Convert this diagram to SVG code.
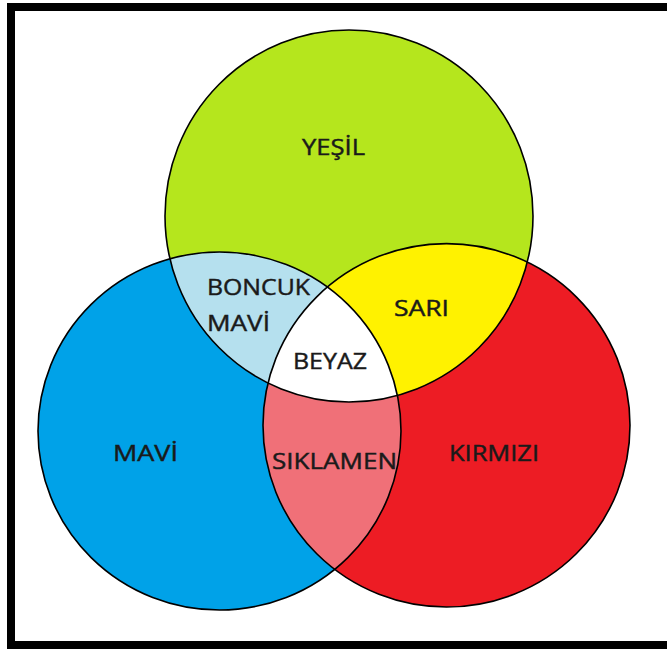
<svg xmlns="http://www.w3.org/2000/svg" width="667" height="650" viewBox="0 0 667 650">
<style>
.outline{fill:none;stroke:#000;stroke-width:1.6}
.lbl{font-family:"Open Sans","Liberation Sans",sans-serif;font-size:22px;fill:#1a1a1a;stroke:#1a1a1a;stroke-width:0.45}
</style>
<defs>
<ellipse id="eG" cx="349" cy="216" rx="184" ry="186"/>
<ellipse id="eB" cx="219.5" cy="431" rx="181.5" ry="179"/>
<ellipse id="eR" cx="446.5" cy="425.3" rx="183.5" ry="181.7"/>
<clipPath id="cG"><use href="#eG"/></clipPath>
<clipPath id="cB"><use href="#eB"/></clipPath>
<clipPath id="cR"><use href="#eR"/></clipPath>
</defs>
<rect x="0" y="0" width="667" height="650" fill="#fff"/>
<rect id="frame" x="11" y="7" width="680" height="638" fill="none" stroke="#000" stroke-width="8"/>
<g id="yesil"><use href="#eG" fill="#b5e61d"/></g>
<g id="mavi"><use href="#eB" fill="#00a2e8"/></g>
<g id="kirmizi"><use href="#eR" fill="#ed1c24"/></g>
<g id="boncuk-mavi"><use href="#eB" clip-path="url(#cG)" fill="#b5e0ee"/></g>
<g id="sari"><use href="#eR" clip-path="url(#cG)" fill="#fff200"/></g>
<g id="siklamen"><use href="#eR" clip-path="url(#cB)" fill="#f07078"/></g>
<g id="beyaz"><g clip-path="url(#cG)"><use href="#eR" clip-path="url(#cB)" fill="#fff"/></g></g>
<g id="outlines">
<use href="#eG" class="outline"/>
<use href="#eB" class="outline"/>
<use href="#eR" class="outline"/>
</g>
<g id="labels">
<text class="lbl" x="302" y="155" textLength="63" lengthAdjust="spacingAndGlyphs">YEŞİL</text>
<text class="lbl" x="207" y="295" textLength="103" lengthAdjust="spacingAndGlyphs">BONCUK</text>
<text class="lbl" x="207" y="331" textLength="63" lengthAdjust="spacingAndGlyphs">MAVİ</text>
<text class="lbl" x="293" y="369" textLength="74" lengthAdjust="spacingAndGlyphs">BEYAZ</text>
<text class="lbl" x="394" y="316" textLength="55" lengthAdjust="spacingAndGlyphs">SARI</text>
<text class="lbl" x="113" y="461" textLength="65" lengthAdjust="spacingAndGlyphs">MAVİ</text>
<text class="lbl" x="272" y="469" textLength="125" lengthAdjust="spacingAndGlyphs">SIKLAMEN</text>
<text class="lbl" x="449" y="461" textLength="90" lengthAdjust="spacingAndGlyphs">KIRMIZI</text>
</g>
</svg>
